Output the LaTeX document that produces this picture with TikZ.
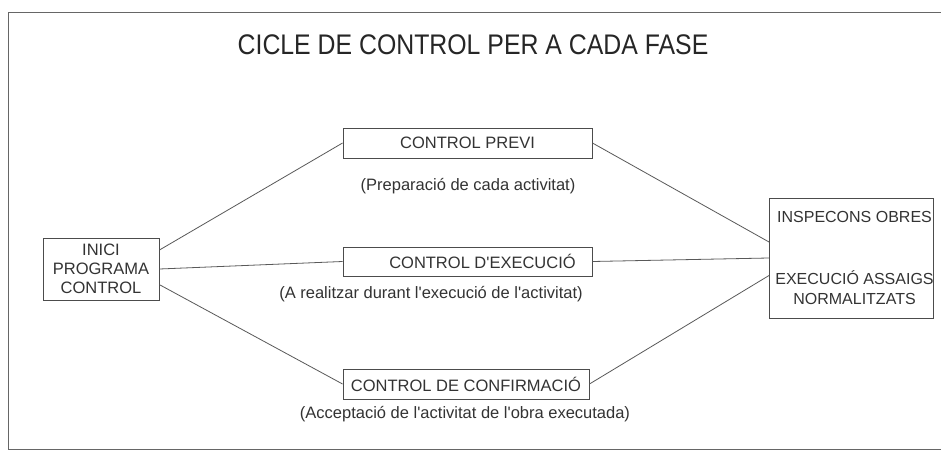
\documentclass[tikz,border=0pt]{standalone}
\usepackage{fontspec}
\setmainfont{Liberation Sans}
\begin{document}
\begin{tikzpicture}[x=1pt,y=-1pt,
  ink/.style={draw=black!70,line width=0.9pt},
  boxnode/.style={ink,rectangle,inner sep=0pt,text=black!80,font=\fontsize{16.5}{19}\selectfont},
  note/.style={inner sep=0pt,text=black!80,font=\fontsize{16.5}{19}\selectfont},
  link/.style={draw=black!65,line width=0.8pt}]
\useasboundingbox (0,0) rectangle (941,457);
\fill[white] (0,0) rectangle (941,457);
% outer frame
\draw[draw=black!60,line width=0.9pt] (941,12) -- (8,12) -- (8,449) -- (941,449);
% title
\node[inner sep=0pt,text=black!85,font=\fontsize{27}{30}\selectfont,xscale=0.92,yscale=1.05] (title) at (473,45) {CICLE DE CONTROL PER A CADA FASE};
% nodes
\node[boxnode,minimum width=116pt,minimum height=62pt,align=center] (inici) at (101,269) {INICI\\PROGRAMA\\CONTROL};
\node[boxnode,minimum width=249pt,minimum height=30pt] (previ) at (467.5,143) {CONTROL PREVI};
\node[boxnode,minimum width=249pt,minimum height=29pt] (exec) at (467.5,261.5) {\hspace*{30pt}CONTROL D\textquotesingle EXECUCIÓ};
\node[boxnode,minimum width=246pt,minimum height=30pt] (conf) at (466,384) {CONTROL DE CONFIRMACIÓ};
\node[boxnode,minimum width=161pt,minimum height=120pt,align=center,font=\fontsize{16}{20}\selectfont] (insp) at (851.5,258) {\hspace*{6pt}INSPECONS OBRES\\[42pt]\hspace*{6pt}EXECUCIÓ ASSAIGS\\\hspace*{6pt}NORMALITZATS};
% notes
\node[note] (previnote) at (468,186) {(Preparació de cada activitat)};
\node[note] (execnote) at (431,294) {(A realitzar durant l\textquotesingle execució de l\textquotesingle activitat)};
\node[note] (confnote) at (465,414) {(Acceptació de l\textquotesingle activitat de l\textquotesingle obra executada)};
% links
\draw[link] (inici.18) -- (previ.west);
\draw[link] (inici.east) -- (exec.west);
\draw[link] (inici.-15) -- (conf.west);
\draw[link] (previ.east) -- (insp.169);
\draw[link] (exec.east) -- (insp.west);
\draw[link] (conf.east) -- (insp.192);
\end{tikzpicture}
\end{document}
